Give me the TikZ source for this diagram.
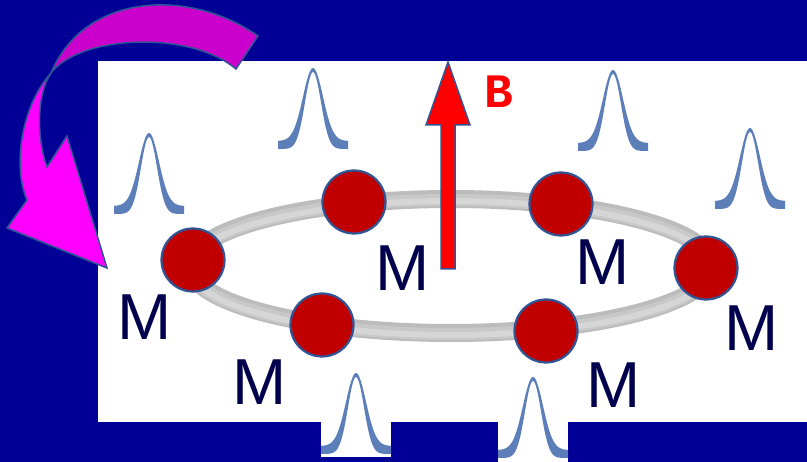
\documentclass[tikz,border=0pt]{standalone}
\usepackage{fontspec}
\setmainfont{Liberation Sans}
\setmonofont{Liberation Mono}
\definecolor{bgblue}{RGB}{0,0,150}
\definecolor{outl}{RGB}{47,85,151}
\definecolor{atomred}{RGB}{192,0,0}
\definecolor{navy}{RGB}{0,0,77}
\definecolor{peakblue}{RGB}{92,127,186}
\definecolor{ringA}{RGB}{188,188,188}
\definecolor{ringB}{RGB}{200,200,200}
\definecolor{ringC}{RGB}{214,214,214}
\definecolor{magdark}{RGB}{204,0,204}
\definecolor{magbright}{RGB}{255,0,255}
\tikzset{
  atom/.style={circle, fill=atomred, draw=outl, line width=2.2pt, minimum size=63pt, inner sep=0pt},
  mlabel/.style={text=navy, inner sep=0pt, font=\fontsize{65}{65}\selectfont},
  blabel/.style={text=red, inner sep=0pt, font=\fontsize{48}{48}\selectfont\ttfamily\bfseries},
  blockarrow/.style={fill=red, draw=outl, line width=1.5pt, line join=miter},
  curlarrow/.style={draw=outl, line width=1.5pt, line join=miter},
  peak/.pic={
    \fill[peakblue] plot[domain=-35:35,samples=71,smooth] (\x,{73*(1-exp(-(\x)*(\x)/200))})
      -- plot[domain=35:-35,samples=71,smooth] (\x,{4+77*(1-exp(-(\x)*(\x)/128))}) -- cycle;
  }
}
\begin{document}
\begin{tikzpicture}[x=1pt,y=-1pt]
\useasboundingbox (0,0) rectangle (807,462);
\fill[bgblue] (0,0) rectangle (807,462);
% white panels
\fill[white] (98,61) rectangle (807,422);
\fill[white] (321,421) rectangle (391,457);
\fill[white] (498,421) rectangle (568,462);
% peaks
\pic at (149,133) {peak};
\pic at (313,68) {peak};
\pic at (613,70) {peak};
\pic at (750,128) {peak};
\pic at (356,373) {peak};
\pic at (533,377) {peak};
% ring
\coordinate (ringc) at (451,266);
\draw[ringA, line width=18pt] (ringc) ellipse [x radius=261, y radius=67];
\draw[ringB, line width=12pt] ([yshift=-1pt]ringc) ellipse [x radius=261, y radius=67];
\draw[ringC, line width=6pt] ([yshift=-2pt]ringc) ellipse [x radius=261, y radius=67];
% atoms
\node[atom] (a1) at (193,260) {};
\node[atom] (a2) at (354,202) {};
\node[atom] (a3) at (322,325) {};
\node[atom] (a4) at (561,204) {};
\node[atom] (a5) at (546,331) {};
\node[atom] (a6) at (706,268) {};
% labels
\node[mlabel] (l1) at (145,317) {M};
\node[mlabel] (l2) at (403,268) {M};
\node[mlabel] (l3) at (260,382) {M};
\node[mlabel] (l4) at (603,262) {M};
\node[mlabel] (l5) at (614,385) {M};
\node[mlabel] (l6) at (752,328) {M};
% field arrow
\coordinate (Bbase) at (448,269);
\coordinate (Btip) at (448,62);
\draw[blockarrow] ([xshift=-7pt]Bbase) -- ++(0,-144) -- ++(-15,0) -- (Btip) -- ++(22,63) -- ++(-15,0) -- ([xshift=7pt]Bbase) -- cycle;
\node[blabel] (B) at (499,92) {B};
% curled arrow
\coordinate (tw) at (51,73);
\fill[magbright] (tw) .. controls (22,105) and (12,165) .. (27,200) -- (7,228) -- (107,268) -- (67,136) -- (47,167) .. controls (37,140) and (36,95) .. (tw) -- cycle;
\draw[curlarrow] (tw) .. controls (22,105) and (12,165) .. (27,200) -- (7,228) -- (107,268) -- (67,136) -- (47,167) .. controls (37,140) and (36,95) .. (tw);
\fill[magdark] (258,36) .. controls (190,-12) and (85,-8) .. (tw) .. controls (80,35) and (190,30) .. (236,69) -- cycle;
\draw[curlarrow] (258,36) .. controls (190,-12) and (85,-8) .. (tw) .. controls (80,35) and (190,30) .. (236,69) -- cycle;
\end{tikzpicture}
\end{document}
